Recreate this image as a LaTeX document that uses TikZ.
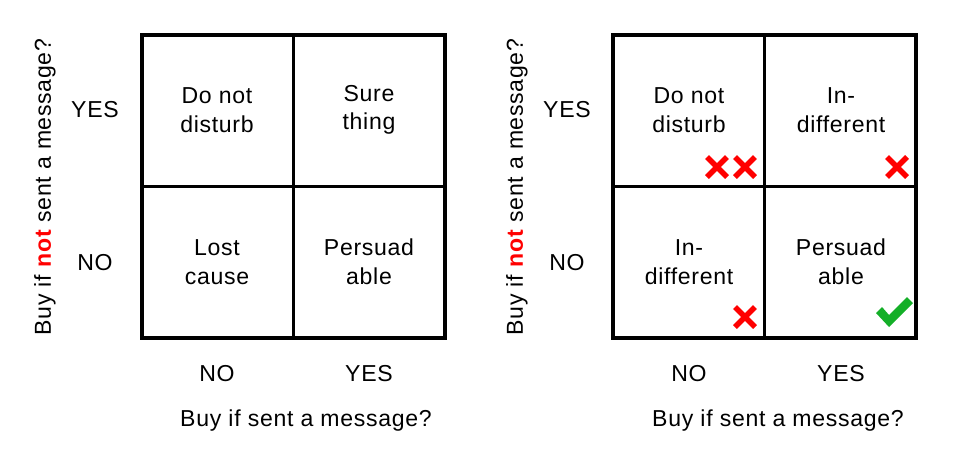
\documentclass[tikz,border=0pt]{standalone}
\usepackage{fontspec}
\setmainfont[LetterSpace=3]{Liberation Sans}
\begin{document}
\begin{tikzpicture}[x=0.75pt,y=-0.75pt,
  gridline/.style={line width=2.4pt,line cap=rect},
  lbl/.style={font=\fontsize{17.3}{21.5}\selectfont,align=center,inner sep=0pt},
  redx/.style={draw=red,line width=4.2pt},
  ]
\useasboundingbox (0,0) rectangle (954,451);
\definecolor{chk}{RGB}{20,175,40}
% ---------- left grid ----------
\draw[gridline] (142,35) rectangle (445,338);
\draw[gridline] (293.5,35) -- (293.5,338);
\draw[gridline] (142,186.5) -- (445,186.5);
\node[lbl] (l11) at (217,110) {Do not\\disturb};
\node[lbl] (l12) at (369,110) {Sure\\thing};
\node[lbl] (l21) at (217,262) {Lost\\cause};
\node[lbl] (l22) at (369,262) {Persuad\\able};
\node[lbl] (lyes) at (95,110) {YES};
\node[lbl] (lno) at (95,263) {NO};
\node[lbl] (lbno) at (217,374) {NO};
\node[lbl] (lbyes) at (369,374) {YES};
\node[lbl] (lx) at (306,421) {Buy if sent a message?};
\node[lbl,rotate=90] (ly) at (45,187) {Buy if \textbf{\color{red}not} sent a message?};
% ---------- right grid ----------
\draw[gridline] (613,35) rectangle (916,338);
\draw[gridline] (764.5,35) -- (764.5,338);
\draw[gridline] (613,186.5) -- (916,186.5);
\node[lbl] (r11) at (689,110) {Do not\\disturb};
\node[lbl] (r12) at (841,110) {In-\\different};
\node[lbl] (r21) at (689,262) {In-\\different};
\node[lbl] (r22) at (841,262) {Persuad\\able};
\node[lbl] (ryes) at (567,110) {YES};
\node[lbl] (rno) at (567,263) {NO};
\node[lbl] (rbno) at (689,374) {NO};
\node[lbl] (rbyes) at (841,374) {YES};
\node[lbl] (rx) at (778,421) {Buy if sent a message?};
\node[lbl,rotate=90] (ry) at (517,187) {Buy if \textbf{\color{red}not} sent a message?};
% crosses
\foreach \cx/\cy in {717/167,745/167,897/167,745/317}{
  \draw[redx] (\cx-10,\cy-10) -- (\cx+10,\cy+10);
  \draw[redx] (\cx-10,\cy+10) -- (\cx+10,\cy-10);
}
% check mark
\fill[chk] (876,313) -- (882,307) -- (889,315) -- (907,297) -- (913,303) -- (889,327) -- cycle;
\end{tikzpicture}
\end{document}
